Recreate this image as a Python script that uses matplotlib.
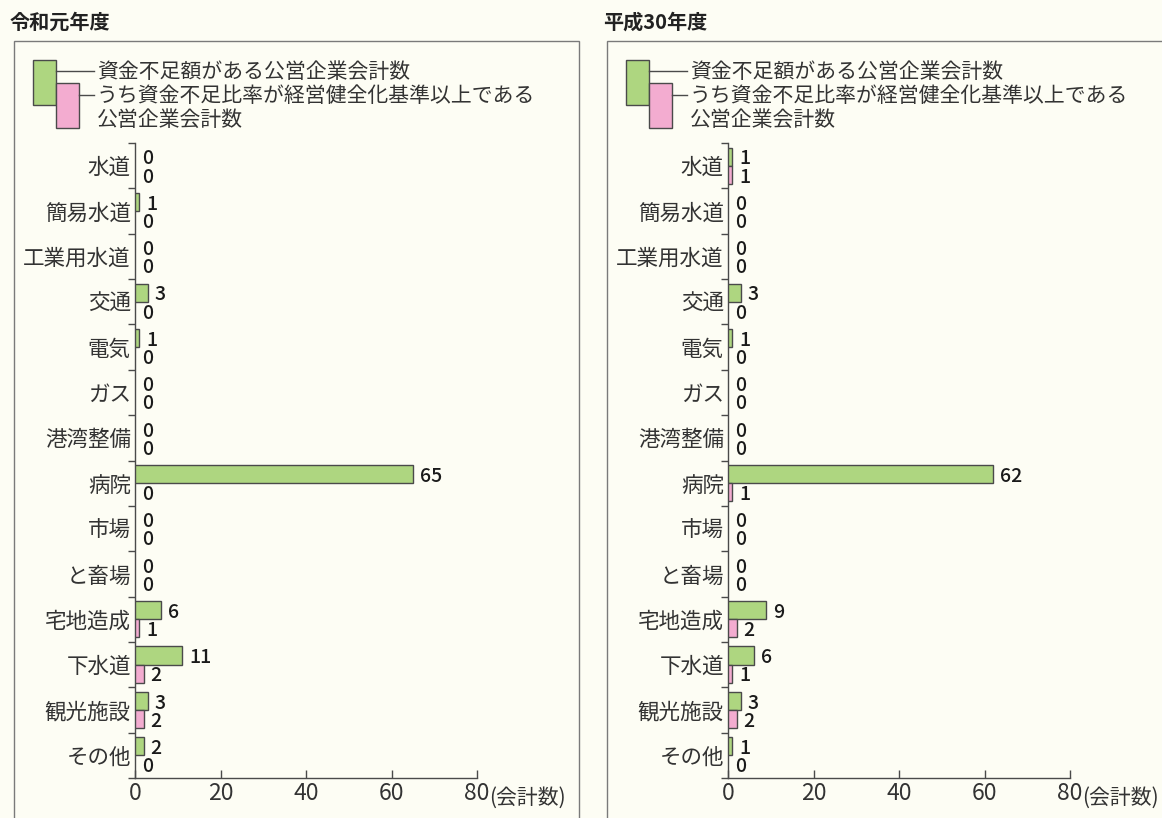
import matplotlib
matplotlib.use("Agg")
import matplotlib.pyplot as plt
from matplotlib.patches import Rectangle
from matplotlib.lines import Line2D

plt.rcParams["font.family"] = ["Noto Sans CJK JP", "DejaVu Sans"]

# ---- data ----
categories = ["水道", "簡易水道", "工業用水道", "交通", "電気", "ガス", "港湾整備",
              "病院", "市場", "と畜場", "宅地造成", "下水道", "観光施設", "その他"]
r1_shortage = [0, 1, 0, 3, 1, 0, 0, 65, 0, 0, 6, 11, 3, 2]
r1_over = [0, 0, 0, 0, 0, 0, 0, 0, 0, 0, 1, 2, 2, 0]
h30_shortage = [1, 0, 0, 3, 1, 0, 0, 62, 0, 0, 9, 6, 3, 1]
h30_over = [1, 0, 0, 0, 0, 0, 0, 1, 0, 0, 2, 1, 2, 0]
panel_titles = ["令和元年度", "平成30年度"]
legend_labels = ["資金不足額がある公営企業会計数",
                 "うち資金不足比率が経営健全化基準以上である\n公営企業会計数"]
x_ticks = [0, 20, 40, 60, 80]
unit_label = "(会計数)"

BG = "#fdfdf4"
GREEN = "#aed680"
PINK = "#f3acd0"
EDGE = "#4a4a4a"
TXT = "#333333"

W, H = 1162, 818
fig = plt.figure(figsize=(W / 100, H / 100), dpi=100, facecolor=BG)


def fx(x):
    return x / W


def fy(y):
    return 1 - y / H


def draw_panel(px0, ax_left, title, shortage, over):
    # frame and title
    fig.patches.append(Rectangle((fx(px0 + 1), fy(840)), fx(565), fy(41) - fy(840),
                                 transform=fig.transFigure, fill=False,
                                 edgecolor="#7a7a7a", lw=1.0))
    fig.text(fx(px0 - 3), fy(22), title, fontsize=14.5, fontweight="bold",
             color="#222222", va="center", ha="left")

    # legend swatches
    gx, px_ = px0 + 20, px0 + 43
    fig.patches.append(Rectangle((fx(gx), fy(105)), fx(23), fy(60) - fy(105),
                                 transform=fig.transFigure, facecolor=GREEN,
                                 edgecolor=EDGE, lw=1.0))
    fig.patches.append(Rectangle((fx(px_), fy(128)), fx(23), fy(83) - fy(128),
                                 transform=fig.transFigure, facecolor=PINK,
                                 edgecolor=EDGE, lw=1.0))
    fig.lines.append(Line2D([fx(gx + 23), fx(px0 + 81)], [fy(71), fy(71)],
                            transform=fig.transFigure, color=EDGE, lw=1.0))
    fig.lines.append(Line2D([fx(px_ + 23), fx(px0 + 81)], [fy(95), fy(95)],
                            transform=fig.transFigure, color=EDGE, lw=1.0))
    fig.text(fx(px0 + 84), fy(72), legend_labels[0], fontsize=15, color=TXT,
             va="center", ha="left")
    fig.text(fx(px0 + 84), fy(108), legend_labels[1], fontsize=15, color=TXT,
             va="center", ha="left", linespacing=1.12)

    ax = fig.add_axes([fx(ax_left), fy(778), fx(342), fy(143) - fy(778)])
    ax.set_facecolor("none")
    n = len(categories)
    ys = list(range(n))
    for i in ys:
        if shortage[i] > 0:
            ax.barh(i - 0.2, shortage[i], height=0.4, color=GREEN,
                    edgecolor=EDGE, lw=1.0, zorder=3)
        if over[i] > 0:
            ax.barh(i + 0.2, over[i], height=0.4, color=PINK,
                    edgecolor=EDGE, lw=1.0, zorder=3)
        ax.annotate(str(shortage[i]), xy=(shortage[i], i - 0.15), xytext=(5, 0),
                    textcoords="offset points", ha="left", va="center",
                    fontsize=14, fontweight="medium", color="#1a1a1a")
        ax.annotate(str(over[i]), xy=(over[i], i + 0.25), xytext=(5, 0),
                    textcoords="offset points", ha="left", va="center",
                    fontsize=14, fontweight="medium", color="#1a1a1a")

    ax.set_xlim(0, 80)
    ax.set_ylim(n - 0.5, -0.5)
    ax.set_xticks(x_ticks)
    ax.set_xticklabels([str(t) for t in x_ticks])
    ax.tick_params(axis="x", direction="in", length=6, width=1.0, colors=EDGE,
                   labelsize=16.5, labelcolor=TXT, pad=3)
    ax.set_yticks([i - 0.5 for i in range(n + 1)])
    ax.set_yticklabels([])
    ax.set_yticks(ys, minor=True)
    ax.set_yticklabels(categories, minor=True)
    ax.tick_params(axis="y", which="major", direction="out", length=5,
                   width=1.0, colors=EDGE)
    ax.tick_params(axis="y", which="minor", length=0, labelsize=15.5,
                   labelcolor=TXT, pad=3)
    for s in ["top", "right"]:
        ax.spines[s].set_visible(False)
    for s in ["left", "bottom"]:
        ax.spines[s].set_color(EDGE)
        ax.spines[s].set_linewidth(1.0)
    ax.annotate(unit_label, xy=(80, 0), xycoords=("data", "axes fraction"),
                xytext=(8.5, -14), textcoords="offset points", ha="left",
                va="center", fontsize=15, color=TXT)
    return ax


draw_panel(13, 135, panel_titles[0], r1_shortage, r1_over)
draw_panel(606, 728, panel_titles[1], h30_shortage, h30_over)

fig.savefig("out.png", dpi=100, facecolor=BG)
